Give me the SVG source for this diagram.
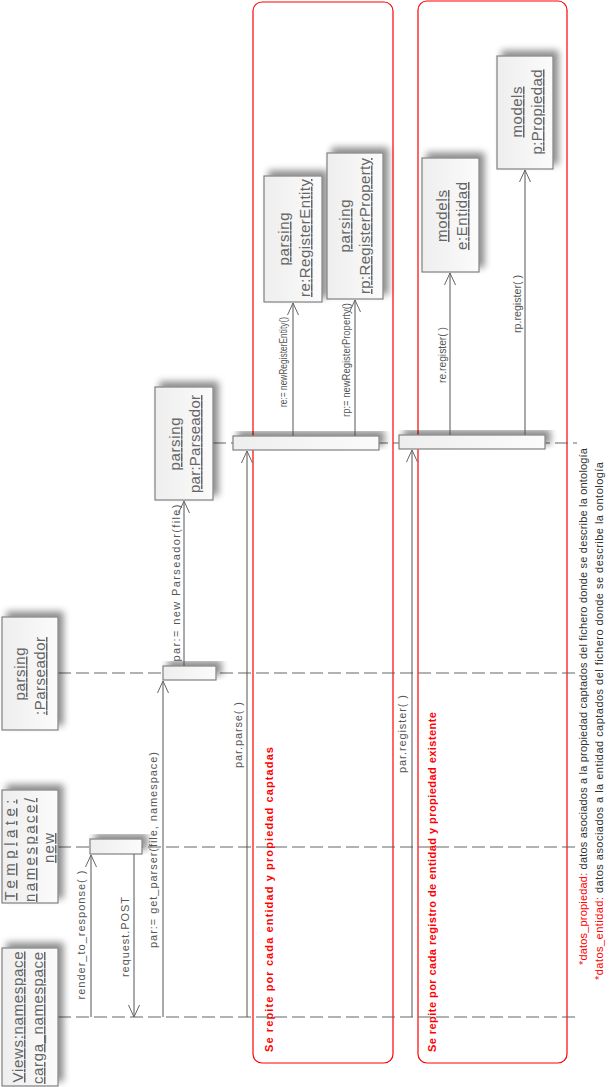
<svg xmlns="http://www.w3.org/2000/svg" width="609" height="1087" viewBox="0 0 609 1087">
<style>
.box{fill:url(#g);stroke:#808080;stroke-width:1.2}
.nt{font-family:"Liberation Sans",Arial,sans-serif;font-size:15px;fill:#666;text-decoration:underline;text-anchor:middle}
.ml{font-family:"Liberation Sans",Arial,sans-serif;font-size:11px;fill:#555;text-anchor:middle}
.sm{font-family:"Liberation Sans",Arial,sans-serif;font-size:10px;fill:#555;text-anchor:middle}
.life{stroke:#666;stroke-width:1.2;stroke-dasharray:13 5;fill:none}
.msg{stroke:#555;stroke-width:1;fill:none;marker-end:url(#arr)}
.frame{fill:none;stroke:#f00;stroke-width:1.2}
.fl{font-family:"Liberation Sans",Arial,sans-serif;font-size:11px;font-weight:bold;fill:#f00}
.fn{font-family:"Liberation Sans",Arial,sans-serif;font-size:11px;fill:#333}
</style>
<defs>
<linearGradient id="g" x1="0" y1="0" x2="1" y2="0">
<stop offset="0" stop-color="#eeeeee"/>
<stop offset="1" stop-color="#fbfbfb"/>
</linearGradient>
<filter id="sh" x="-30%" y="-30%" width="160%" height="160%">
<feGaussianBlur in="SourceAlpha" stdDeviation="3.5"/>
<feOffset dx="5" dy="-5" result="o"/>
<feComponentTransfer><feFuncA type="linear" slope="0.45"/></feComponentTransfer>
<feMerge><feMergeNode/><feMergeNode in="SourceGraphic"/></feMerge>
</filter>
<marker id="arr" viewBox="0 0 12 12" refX="12" refY="6" markerWidth="12" markerHeight="12" markerUnits="userSpaceOnUse" orient="auto">
<path d="M0,0.5 L12,6 L0,11.5" fill="none" stroke="#666" stroke-width="1"/>
</marker>
</defs>
<rect width="609" height="1087" fill="#fff"/>

<g id="frames">
<rect class="frame" x="253" y="2" width="140" height="1061" rx="9"/>
<rect class="frame" x="418" y="1" width="149" height="1062" rx="9"/>
<text class="fl" transform="translate(273,1052) rotate(-90)" textLength="305" lengthAdjust="spacing">Se repite por cada entidad y propiedad captadas</text>
<text class="fl" transform="translate(436,1052) rotate(-90)" textLength="340" lengthAdjust="spacing">Se repite por cada registro de entidad y propiedad existente</text>
</g>

<g id="lifelines">
<line class="life" x1="58" y1="1017" x2="577" y2="1017"/>
<line class="life" x1="58" y1="847" x2="577" y2="847"/>
<line class="life" x1="58" y1="673" x2="577" y2="673"/>
<line class="life" x1="213" y1="443" x2="577" y2="443"/>
</g>

<g id="views">
<rect class="box" x="2" y="948" width="56" height="138" filter="url(#sh)"/>
<text class="nt" transform="translate(23,1017) rotate(-90)" textLength="131" lengthAdjust="spacing">Views:namespace</text>
<text class="nt" transform="translate(43,1018) rotate(-90)" textLength="132" lengthAdjust="spacing">carga_namespace</text>
</g>
<g id="template">
<rect class="box" x="2" y="790" width="56" height="113" filter="url(#sh)"/>
<text class="nt" transform="translate(15,850) rotate(-90)" textLength="101" lengthAdjust="spacing">Template:</text>
<text class="nt" transform="translate(35,850) rotate(-90)" textLength="104" lengthAdjust="spacing">namespace/</text>
<text class="nt" transform="translate(54,848) rotate(-90)" textLength="30" lengthAdjust="spacing">new</text>
</g>
<g id="parseador">
<rect class="box" x="2" y="617" width="56" height="113" filter="url(#sh)"/>
<text class="nt" transform="translate(25,674) rotate(-90)" textLength="53" lengthAdjust="spacing">parsing</text>
<text class="nt" transform="translate(45,676) rotate(-90)" textLength="78" lengthAdjust="spacing">:Parseador</text>
</g>
<g id="par-parseador">
<rect class="box" x="155" y="387" width="58" height="113" filter="url(#sh)"/>
<text class="nt" transform="translate(180,444) rotate(-90)" textLength="53" lengthAdjust="spacing">parsing</text>
<text class="nt" transform="translate(200,444) rotate(-90)" textLength="98" lengthAdjust="spacing">par:Parseador</text>
</g>
<g id="re-registerentity">
<rect class="box" x="264" y="176" width="58" height="126" filter="url(#sh)"/>
<text class="nt" transform="translate(289,239) rotate(-90)" textLength="53" lengthAdjust="spacing">parsing</text>
<text class="nt" transform="translate(310,238) rotate(-90)" textLength="118" lengthAdjust="spacing">re:RegisterEntity</text>
</g>
<g id="rp-registerproperty">
<rect class="box" x="327" y="153" width="56" height="146" filter="url(#sh)"/>
<text class="nt" transform="translate(350,226) rotate(-90)" textLength="53" lengthAdjust="spacing">parsing</text>
<text class="nt" transform="translate(370,226) rotate(-90)" textLength="136" lengthAdjust="spacing">rp:RegisterProperty</text>
</g>
<g id="e-entidad">
<rect class="box" x="422" y="158" width="57" height="114" filter="url(#sh)"/>
<text class="nt" transform="translate(447,216) rotate(-90)" textLength="52" lengthAdjust="spacing">models</text>
<text class="nt" transform="translate(467,216) rotate(-90)" textLength="68" lengthAdjust="spacing">e:Entidad</text>
</g>
<g id="p-propiedad">
<rect class="box" x="497" y="56" width="56" height="113" filter="url(#sh)"/>
<text class="nt" transform="translate(522,112) rotate(-90)" textLength="51" lengthAdjust="spacing">models</text>
<text class="nt" transform="translate(542,112) rotate(-90)" textLength="85" lengthAdjust="spacing">p:Propiedad</text>
</g>

<g id="activations">
<rect class="box" x="90" y="839" width="52" height="15" filter="url(#sh)"/>
<rect class="box" x="163" y="666" width="53" height="14" filter="url(#sh)"/>
<rect class="box" x="233" y="436" width="146" height="14" filter="url(#sh)"/>
<rect class="box" x="399" y="435" width="146" height="14" filter="url(#sh)"/>
</g>

<g id="connectors">
<path class="msg" d="M91,1017 V855"/>
<path class="msg" d="M134,854 V1017"/>
<path class="msg" d="M163,1017 V681"/>
<path class="msg" d="M184,666 V501"/>
<path class="msg" d="M247,1017 V451"/>
<path class="msg" d="M412,1017 V450"/>
<path class="msg" d="M293,436 V303"/>
<path class="msg" d="M355,436 V300"/>
<path class="msg" d="M450,435 V273"/>
<path class="msg" d="M525,435 V170"/>
<text class="ml" transform="translate(85,935) rotate(-90)" textLength="129" lengthAdjust="spacing">render_to_response( )</text>
<text class="ml" transform="translate(129,937) rotate(-90)" textLength="80" lengthAdjust="spacing">request.POST</text>
<text class="ml" transform="translate(157,850) rotate(-90)" textLength="196" lengthAdjust="spacing">par:= get_parser(file, namespace)</text>
<text class="ml" transform="translate(180,583) rotate(-90)" textLength="157" lengthAdjust="spacing">par:= new Parseador(file)</text>
<text class="ml" transform="translate(242,735) rotate(-90)" textLength="66" lengthAdjust="spacing">par.parse( )</text>
<text class="ml" transform="translate(406,734) rotate(-90)" textLength="78" lengthAdjust="spacing">par.register( )</text>
<text class="sm" transform="translate(287,362) rotate(-90)" textLength="90" lengthAdjust="spacingAndGlyphs">re:= newRegisterEntity()</text>
<text class="sm" transform="translate(350,360) rotate(-90)" textLength="114" lengthAdjust="spacingAndGlyphs">rp:= newRegisterProperty()</text>
<text class="sm" transform="translate(446,355) rotate(-90)" textLength="56" lengthAdjust="spacingAndGlyphs">re.register( )</text>
<text class="sm" transform="translate(521,304) rotate(-90)" textLength="58" lengthAdjust="spacingAndGlyphs">rp.register( )</text>
</g>

<g id="notes">
<text class="fn" transform="translate(587,965) rotate(-90)" textLength="517" lengthAdjust="spacing"><tspan fill="#f00">*datos_propiedad:</tspan> datos asociados a la propiedad captados del fichero donde se describe la ontología</text>
<text class="fn" transform="translate(603,980) rotate(-90)" textLength="518" lengthAdjust="spacing"><tspan fill="#f00">*datos_entidad:</tspan> datos asociados a la entidad captados del fichero donde se describe la ontología</text>
</g>
</svg>
